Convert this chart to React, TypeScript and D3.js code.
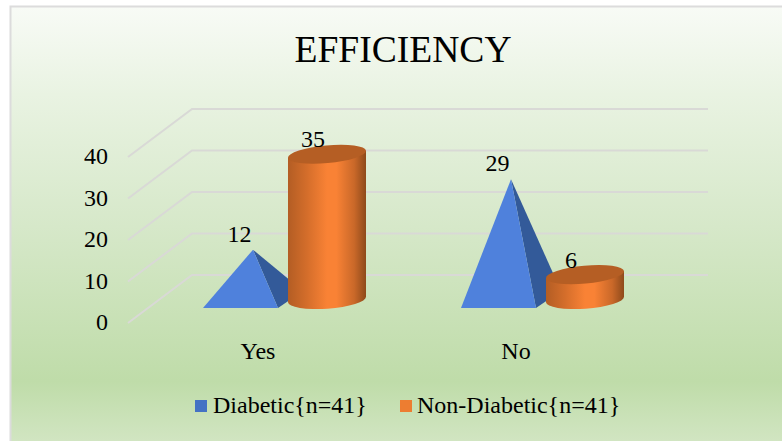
import React from "react";
import * as d3 from "d3";

const categories = ["Yes", "No"];
const seriesNames = ["Diabetic{n=41}", "Non-Diabetic{n=41}"];
const diabetic = [12, 29];
const nonDiabetic = [35, 6];
const axisTicks = [0, 10, 20, 30, 40];
const title = "EFFICIENCY";

const FONT = "'Liberation Serif', 'Times New Roman', serif";
const W = 782;
const H = 441;

// Vertical value scale measured along the front edge of the side wall.
const yFront = d3.scaleLinear().domain([0, 40]).range([323, 157]);
// Height of a mark above its base, in pixels.
const heightOf = (v: number) => yFront(0) - yFront(v);
const groupX = d3.scaleBand<string>().domain(categories).range([161, 677]);
const groupCenter = (c: string) => (groupX(c) as number) + groupX.bandwidth() / 2;

const DEPTH_X = 64;
const DEPTH_Y = 48;
const WALL_RIGHT = 708;
const BASE_Y = 299.5;
const SERIES_OFFSET = 37;

const gridPath = d3.line<[number, number]>();

function Pyramid({ cx, value }: { cx: number; value: number }) {
  const apex: [number, number] = [cx, BASE_Y - heightOf(value)];
  const frontLeft: [number, number] = [cx - 50, 308];
  const frontRight: [number, number] = [cx + 25, 308];
  const backRight: [number, number] = [cx + 50, 291];
  return (
    <g>
      <path d={gridPath([apex, frontRight, backRight])! + "Z"} fill="#335a99" />
      <path d={gridPath([apex, frontLeft, frontRight])! + "Z"} fill="#4f81dc" />
    </g>
  );
}

function Cylinder({ cx, value }: { cx: number; value: number }) {
  const rx = 39;
  const ryTop = 8.9;
  const ryBase = 9.2;
  const leanTop = 3.6;
  const leanBase = 2.8;
  const tiltTop = (-Math.atan(leanTop / rx) * 180) / Math.PI;
  const tiltBase = (-Math.atan(leanBase / rx) * 180) / Math.PI;
  const topY = BASE_Y - heightOf(value);
  const L = cx - rx;
  const R = cx + rx;
  const body =
    `M${L},${topY + leanTop}` +
    `L${L},${BASE_Y + leanBase}` +
    `A${rx},${ryBase} ${tiltBase} 0 0 ${R},${BASE_Y - leanBase}` +
    `L${R},${topY - leanTop}Z`;
  return (
    <g>
      <path d={body} fill="url(#cylinderShade)" />
      <ellipse
        cx={cx}
        cy={topY}
        rx={Math.hypot(rx, leanTop)}
        ry={ryTop}
        fill="#b55e24"
        transform={`rotate(${tiltTop} ${cx} ${topY})`}
      />
    </g>
  );
}

export default function App() {
  return (
    <svg
      width={W}
      height={H}
      viewBox={`0 0 ${W} ${H}`}
      style={{ position: "fixed", left: 0, top: 0, display: "block" }}
      fontFamily={FONT}
    >
      <defs>
        <linearGradient id="panelFill" x1="0" y1="0" x2="0" y2="1">
          <stop offset="0" stopColor="#f8fbf6" />
          <stop offset="0.2" stopColor="#e9f3e2" />
          <stop offset="0.5" stopColor="#d6e8c9" />
          <stop offset="0.85" stopColor="#bfdca9" />
          <stop offset="1" stopColor="#d3e6c4" />
        </linearGradient>
        <linearGradient id="cylinderShade" x1="0" y1="0" x2="1" y2="0">
          <stop offset="0" stopColor="#b35d24" />
          <stop offset="0.25" stopColor="#d56e2b" />
          <stop offset="0.5" stopColor="#f98235" />
          <stop offset="0.62" stopColor="#f98235" />
          <stop offset="0.85" stopColor="#c96829" />
          <stop offset="1" stopColor="#8e4a1b" />
        </linearGradient>
      </defs>

      <rect x={0} y={0} width={W} height={H} fill="#ffffff" />
      <rect x={10.5} y={6.5} width={W} height={H} fill="url(#panelFill)" stroke="#dcdcdc" strokeWidth={2} />

      <text x={403} y={62} fontSize={37.6} textAnchor="middle" fill="#000">
        {title}
      </text>

      {axisTicks.map((t) => {
        const y = yFront(t);
        return (
          <g key={t}>
            <path
              d={gridPath([[128, y], [128 + DEPTH_X, y - DEPTH_Y], [WALL_RIGHT, y - DEPTH_Y]])!}
              fill="none"
              stroke="#d9d9d6"
              strokeWidth={2}
            />
            <text x={108} y={y + 7} fontSize={24} textAnchor="end" fill="#000">
              {t}
            </text>
          </g>
        );
      })}

      {categories.map((c, i) => {
        const center = groupCenter(c);
        const px = center - SERIES_OFFSET;
        const cx = center + SERIES_OFFSET;
        return (
          <g key={c}>
            <Pyramid cx={px} value={diabetic[i]} />
            <Cylinder cx={cx} value={nonDiabetic[i]} />
            <text x={px - 13.5} y={BASE_Y - heightOf(diabetic[i]) - 8} fontSize={24} textAnchor="middle" fill="#000">
              {diabetic[i]}
            </text>
            <text x={cx - 14} y={BASE_Y - heightOf(nonDiabetic[i]) - 7} fontSize={24} textAnchor="middle" fill="#000">
              {nonDiabetic[i]}
            </text>
            <text x={center - 32} y={359} fontSize={24} textAnchor="middle" fill="#000">
              {c}
            </text>
          </g>
        );
      })}

      <rect x={195} y={400} width={12} height={12} fill="#4472c4" />
      <text x={213} y={413} fontSize={24} fill="#000">{seriesNames[0]}</text>
      <rect x={400} y={400} width={12} height={12} fill="#ed7d31" />
      <text x={417} y={413} fontSize={24} fill="#000">{seriesNames[1]}</text>
    </svg>
  );
}
